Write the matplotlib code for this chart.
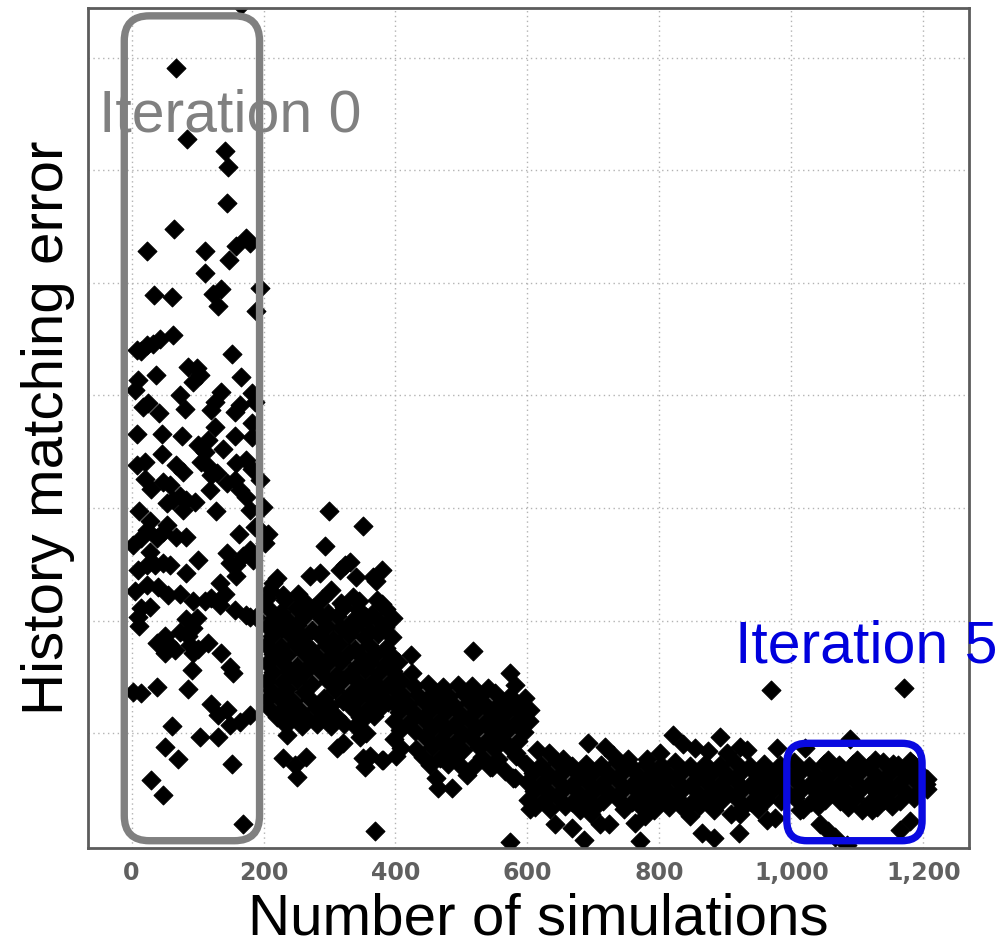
import numpy as np
import matplotlib
matplotlib.use("Agg")
import matplotlib.pyplot as plt
from matplotlib.patches import FancyBboxPatch
from matplotlib.ticker import FuncFormatter

# (simulation number, history matching error), per iteration
iter0_pts = [
    (68, 6.91), (84, 6.28), (141, 6.17), (146, 6.03), (144, 5.71), (64, 5.48), (23, 5.28),
    (111, 5.28), (158, 5.33), (174, 5.40), (180, 5.35), (147, 5.20), (112, 5.09), (34, 4.89),
    (61, 4.87), (124, 4.90), (136, 4.94), (194, 4.95), (166, 7.47), (131, 4.79), (189, 4.75),
    (8, 4.40), (15, 4.39), (23, 4.45), (33, 4.46), (43, 4.50), (63, 4.54), (152, 4.37),
    (86, 4.25), (99, 4.24), (104, 4.18), (93, 4.12), (37, 4.18), (166, 4.16), (10, 4.14),
    (5, 4.05), (136, 4.03), (126, 3.94), (121, 3.87), (183, 4.02), (187, 3.94), (73, 4.00),
    (81, 3.88), (25, 3.93), (18, 3.90), (42, 3.84), (164, 3.91), (157, 3.85), (183, 3.75),
    (183, 3.63), (126, 3.72), (8, 3.66), (46, 3.66), (77, 3.64), (157, 3.64), (101, 3.56),
    (116, 3.60), (111, 3.50), (106, 3.41), (139, 3.52), (46, 3.48), (8, 3.38), (20, 3.41),
    (68, 3.38), (78, 3.32), (159, 3.40), (174, 3.43), (182, 3.35), (116, 3.37), (121, 3.29),
    (129, 3.31), (20, 3.26), (30, 3.17), (48, 3.23), (58, 3.20), (144, 3.22), (157, 3.25),
    (119, 3.16), (73, 3.11), (63, 3.07), (53, 3.04), (83, 3.07), (96, 3.05), (78, 2.98),
    (164, 3.16), (174, 3.10), (179, 2.98), (128, 2.97), (12, 2.97), (194, 3.25), (199, 3.01),
    (28, 2.88), (23, 2.80), (53, 2.85), (48, 2.79), (38, 2.73), (68, 2.74), (83, 2.74),
    (2, 2.67), (15, 2.73), (28, 2.61), (163, 2.77), (187, 2.83), (197, 2.79), (10, 2.45),
    (23, 2.49), (35, 2.49), (48, 2.51), (58, 2.49), (101, 2.54), (144, 2.60), (149, 2.51),
    (159, 2.49), (169, 2.57), (179, 2.63), (184, 2.54), (82, 2.42), (159, 2.40), (5, 2.26),
    (23, 2.32), (40, 2.30), (55, 2.23), (73, 2.24), (134, 2.33), (141, 2.24), (134, 2.14),
    (93, 2.17), (111, 2.17), (121, 2.20), (15, 2.11), (28, 2.12), (10, 2.03), (12, 1.95),
    (157, 2.09), (179, 2.03), (174, 2.05), (189, 2.03), (83, 2.01), (99, 2.02), (93, 1.93),
    (73, 1.90), (86, 1.86), (38, 1.80), (50, 1.86), (55, 1.80), (50, 1.71), (66, 1.74),
    (88, 1.78), (101, 1.75), (116, 1.80), (93, 1.71), (136, 1.71), (149, 1.59), (154, 1.53),
    (92, 1.56), (2, 1.37), (15, 1.36), (39, 1.41), (86, 1.39), (121, 1.26), (131, 1.16),
    (144, 1.21), (149, 1.07), (164, 1.10), (179, 1.16), (61, 1.06), (104, 0.97), (131, 0.97),
    (50, 0.88), (70, 0.77), (152, 0.73), (29, 0.58), (48, 0.45), (169, 0.19),
]

iter1_pts = [
    (203, 2.69), (207, 2.77), (300, 2.97), (351, 2.84), (293, 2.66), (270, 2.40), (285, 2.42),
    (316, 2.45), (331, 2.52), (323, 2.49), (340, 2.39), (366, 2.39), (379, 2.45), (371, 2.35),
    (215, 2.33), (210, 2.27), (220, 2.38), (230, 2.23), (253, 2.24), (303, 2.27), (336, 2.21),
    (379, 2.15), (275, 2.11),
    (206, 2.20), (232, 2.18), (262, 2.17), (288, 2.19), (318, 2.16), (344, 2.17), (372, 2.18),
    (206, 2.12), (226, 2.08), (249, 2.11), (276, 2.10), (298, 2.07), (322, 2.12), (345, 2.09),
    (364, 2.06), (386, 2.10),
    (216, 2.02), (238, 2.00), (262, 2.03), (288, 2.01), (311, 2.04), (334, 2.00), (356, 2.03),
    (376, 1.99), (396, 2.02),
    (205, 1.95), (228, 1.93), (251, 1.96), (273, 1.92), (296, 1.95), (318, 1.93), (341, 1.96),
    (362, 1.91), (384, 1.94),
    (213, 1.86), (238, 1.88), (260, 1.85), (284, 1.87), (306, 1.84), (330, 1.87), (352, 1.85),
    (373, 1.88), (394, 1.85),
    (204, 1.78), (226, 1.77), (248, 1.79), (271, 1.76), (294, 1.78), (314, 1.79), (338, 1.75),
    (360, 1.78), (385, 1.76),
    (214, 1.70), (236, 1.69), (261, 1.71), (283, 1.68), (305, 1.70), (329, 1.71), (350, 1.68),
    (371, 1.70), (393, 1.69),
    (205, 1.62), (228, 1.63), (250, 1.60), (273, 1.62), (296, 1.61), (318, 1.63), (342, 1.60),
    (362, 1.62), (384, 1.61), (404, 1.63),
    (215, 1.54), (239, 1.55), (262, 1.53), (286, 1.55), (310, 1.52), (333, 1.54), (354, 1.56),
    (375, 1.53), (396, 1.55),
    (204, 1.46), (228, 1.45), (250, 1.47), (273, 1.44), (297, 1.46), (321, 1.47), (343, 1.45),
    (366, 1.46), (388, 1.44), (408, 1.46),
    (212, 1.38), (236, 1.39), (262, 1.37), (309, 1.38), (332, 1.36), (355, 1.39), (377, 1.37),
    (399, 1.38),
    (205, 1.30), (223, 1.31), (244, 1.29), (270, 1.30), (292, 1.31), (321, 1.29), (344, 1.31),
    (366, 1.30), (389, 1.28),
    (209, 1.22), (233, 1.23), (256, 1.21), (279, 1.22), (301, 1.24), (334, 1.22), (356, 1.21),
    (378, 1.23),
    (221, 1.14), (246, 1.15), (268, 1.13), (290, 1.15), (312, 1.14), (346, 1.14), (368, 1.15),
    (234, 1.07), (258, 1.06), (281, 1.08), (302, 1.06), (322, 1.08),
    (235, 0.98), (230, 0.78), (248, 0.72), (265, 0.79), (311, 0.87), (321, 0.91), (351, 0.78),
    (379, 0.76), (354, 0.70), (250, 0.61), (346, 0.97), (356, 1.00), (338, 1.06), (349, 1.12),
    (361, 0.80), (381, 0.76), (369, 0.13),
]

iter2_pts = [
    (423, 1.69), (425, 1.53), (518, 1.73), (573, 1.53), (581, 1.43), (596, 1.31), (604, 1.21),
    (428, 1.42), (450, 1.44), (472, 1.41), (494, 1.43), (516, 1.42), (540, 1.40),
    (410, 1.35), (434, 1.34), (457, 1.36), (481, 1.33), (504, 1.35), (527, 1.34), (551, 1.36),
    (574, 1.33),
    (397, 1.27), (419, 1.26), (443, 1.28), (466, 1.27), (489, 1.25), (512, 1.28), (535, 1.26),
    (559, 1.27), (583, 1.25),
    (406, 1.19), (430, 1.18), (453, 1.20), (476, 1.19), (499, 1.17), (522, 1.20), (546, 1.18),
    (569, 1.19), (592, 1.17),
    (398, 1.11), (420, 1.10), (443, 1.12), (466, 1.11), (490, 1.09), (512, 1.12), (535, 1.10),
    (558, 1.11), (581, 1.09), (602, 1.11),
    (407, 1.03), (430, 1.02), (455, 1.04), (478, 1.03), (501, 1.01), (524, 1.04), (547, 1.02),
    (571, 1.03), (594, 1.01),
    (398, 0.95), (446, 0.96), (469, 0.95), (491, 0.93), (515, 0.96), (538, 0.94), (562, 0.95),
    (586, 0.93),
    (409, 0.87), (431, 0.86), (456, 0.88), (480, 0.87), (503, 0.85), (526, 0.88), (550, 0.86),
    (574, 0.87),
    (401, 0.80), (441, 0.79), (468, 0.78), (492, 0.80), (531, 0.79), (556, 0.77), (582, 0.80),
    (452, 0.72), (479, 0.73), (500, 0.71), (521, 0.72), (546, 0.70),
    (462, 0.60), (465, 0.51), (485, 0.51), (543, 0.70), (566, 0.66), (581, 0.60), (508, 0.63),
    (583, 0.82), (578, 0.60), (574, 0.03),
]

iter3to5_pts = [
    (969, 1.38), (1170, 1.40),
    (614, 0.85), (632, 0.82), (654, 0.77), (692, 0.91), (717, 0.88), (730, 0.81), (753, 0.77),
    (781, 0.77), (801, 0.82), (821, 0.98), (836, 0.90), (854, 0.87), (874, 0.84), (892, 0.97),
    (902, 0.82), (922, 0.88), (932, 0.85), (978, 0.87), (1021, 0.87), (1056, 0.76), (1074, 0.70),
    (1089, 0.95), (1099, 0.76), (1127, 0.76), (1154, 0.73), (1180, 0.75),
    (598, 0.73), (621, 0.72), (644, 0.74), (667, 0.71), (689, 0.73), (712, 0.72), (735, 0.74),
    (757, 0.71), (779, 0.73), (802, 0.72), (824, 0.74), (847, 0.71), (869, 0.73), (892, 0.72),
    (914, 0.74), (937, 0.71), (959, 0.73), (982, 0.72), (1004, 0.74), (1027, 0.71), (1049, 0.73),
    (1072, 0.72), (1094, 0.73), (1117, 0.71), (1139, 0.74), (1162, 0.72), (1184, 0.73),
    (609, 0.65), (632, 0.64), (655, 0.66), (678, 0.63), (700, 0.65), (723, 0.64), (746, 0.66),
    (768, 0.63), (790, 0.65), (813, 0.64), (835, 0.66), (858, 0.63), (880, 0.65), (903, 0.64),
    (925, 0.66), (948, 0.63), (970, 0.65), (993, 0.64), (1015, 0.66), (1038, 0.63), (1060, 0.65),
    (1083, 0.64), (1105, 0.66), (1128, 0.63), (1150, 0.65), (1173, 0.64), (1195, 0.65),
    (600, 0.57), (622, 0.56), (645, 0.58), (667, 0.55), (690, 0.57), (713, 0.56), (735, 0.58),
    (758, 0.55), (780, 0.57), (803, 0.56), (825, 0.58), (848, 0.55), (870, 0.57), (893, 0.56),
    (915, 0.58), (938, 0.55), (960, 0.57), (983, 0.56), (1005, 0.58), (1028, 0.55), (1050, 0.57),
    (1073, 0.56), (1095, 0.58), (1118, 0.55), (1140, 0.57), (1163, 0.56), (1185, 0.58), (1204, 0.55),
    (610, 0.49), (633, 0.48), (656, 0.50), (678, 0.47), (701, 0.49), (724, 0.48), (746, 0.50),
    (769, 0.47), (791, 0.49), (814, 0.48), (836, 0.50), (859, 0.47), (881, 0.49), (904, 0.48),
    (926, 0.50), (949, 0.47), (971, 0.49), (994, 0.48), (1016, 0.50), (1039, 0.47), (1061, 0.49),
    (1084, 0.48), (1106, 0.50), (1129, 0.47), (1151, 0.49), (1174, 0.48), (1196, 0.50),
    (601, 0.41), (623, 0.40), (646, 0.42), (668, 0.39), (691, 0.41), (714, 0.40), (736, 0.42),
    (759, 0.39), (781, 0.41), (804, 0.40), (826, 0.42), (849, 0.39), (871, 0.41), (894, 0.40),
    (916, 0.42), (939, 0.39), (961, 0.41), (984, 0.40), (1006, 0.42), (1029, 0.39), (1051, 0.41),
    (1074, 0.40), (1096, 0.42), (1119, 0.39), (1141, 0.41), (1164, 0.40), (1186, 0.42),
    (611, 0.34), (634, 0.33), (657, 0.35), (680, 0.32), (702, 0.34), (747, 0.33), (770, 0.35),
    (792, 0.32), (815, 0.34), (837, 0.33), (860, 0.35), (882, 0.32), (927, 0.34), (950, 0.33),
    (1017, 0.33), (1040, 0.35), (1085, 0.34), (1107, 0.32), (1130, 0.34), (1152, 0.35),
    (642, 0.19), (667, 0.16), (685, 0.05), (710, 0.19), (723, 0.19), (697, 0.28), (604, 0.33),
    (763, 0.20), (778, 0.26), (770, 0.04), (846, 0.26), (864, 0.11), (882, 0.07), (909, 0.28),
    (922, 0.28), (920, 0.11), (963, 0.23), (975, 0.25), (1043, 0.19), (1056, 0.13), (1066, 0.08),
    (1084, 0.01), (1122, 0.32), (1165, 0.14), (1180, 0.22), (1013, 0.32), (1205, 0.59), (1205, 0.50),
]

x_ticks = [0, 200, 400, 600, 800, 1000, 1200]
y_grid = [1, 2, 3, 4, 5, 6, 7]

# highlight boxes (x0, x1, y0, y1) in data units
box_iter0 = (-11, 194, 0.045, 7.37)
box_iter5 = (993, 1198, 0.045, 0.91)

fig = plt.figure(figsize=(10.02, 9.49), dpi=100)
ax = fig.add_axes([0.0878, 0.1064, 0.8792, 0.8852])
ax.set_xlim(-66, 1269)
ax.set_ylim(-0.02, 7.44)

for pts in (iter0_pts, iter1_pts, iter2_pts, iter3to5_pts):
    arr = np.array(pts)
    sc = ax.scatter(arr[:, 0], arr[:, 1], s=92, marker="D", c="black",
                    edgecolors="black", linewidths=0.8, zorder=2)
    sc.set_joinstyle("round")

ax.set_xticks(x_ticks)
ax.set_yticks(y_grid)
ax.xaxis.set_major_formatter(FuncFormatter(lambda v, p: f"{int(v):,}"))
ax.tick_params(axis="both", length=0)
ax.tick_params(axis="y", labelleft=False)
ax.tick_params(axis="x", pad=9.5, labelsize=17, labelcolor="#606060")
for lab in ax.get_xticklabels():
    lab.set_fontweight("bold")
    lab.set_family("DejaVu Sans")

ax.set_axisbelow(True)
ax.grid(True, color="#b3b3b3", linestyle=(0, (1, 2.5)), linewidth=1.0)
for s in ax.spines.values():
    s.set_color("#5c5c5c")
    s.set_linewidth(2.0)

ax.set_xlabel("Number of simulations", fontsize=42, family="Liberation Sans", labelpad=5)
ax.xaxis.label.set_x(0.511)
ax.set_ylabel("History matching error", fontsize=42, family="Liberation Sans", labelpad=9)

# rounded boxes: keep corners circular in pixels
ax_w_px = 0.8792 * 1002
ax_h_px = 0.8852 * 949
px_x = ax_w_px / (1269 - (-66))
px_y = ax_h_px / (7.44 - (-0.02))
aspect = px_x / px_y

for (x0, x1, y0, y1), col, rad in ((box_iter0, "#808080", 25), (box_iter5, "#0a0ae0", 20)):
    patch = FancyBboxPatch((x0, y0), x1 - x0, y1 - y0,
                           boxstyle=f"round,pad=0,rounding_size={rad / px_x}",
                           mutation_aspect=aspect, transform=ax.transData,
                           fill=False, edgecolor=col, linewidth=5.3, zorder=3, clip_on=False)
    ax.add_patch(patch)

ax.text(-50, 6.344, "Iteration 0", fontsize=42.5, color="#808080", family="Liberation Sans",
        ha="left", va="baseline", zorder=5)
ax.text(914.8, 1.624, "Iteration 5", fontsize=42.5, color="#0000dd", family="Liberation Sans",
        ha="left", va="baseline", zorder=5, clip_on=False)

fig.savefig("out.png", dpi=100)
